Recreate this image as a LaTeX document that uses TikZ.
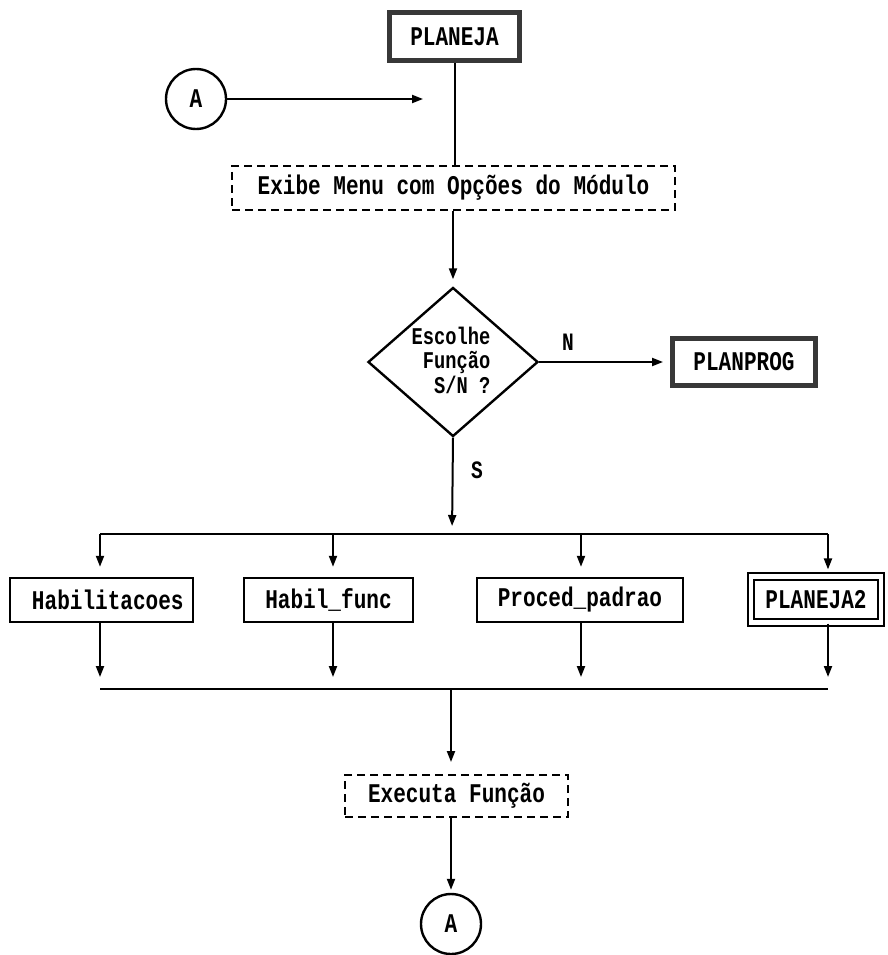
\documentclass[tikz,border=0pt]{standalone}
\usepackage{fontspec}
\newfontfamily\dotfont[FakeStretch=0.78]{Liberation Mono}
\usetikzlibrary{shapes.geometric,arrows.meta}
\begin{document}
\begin{tikzpicture}[x=1pt,y=-1pt,
  every node/.style={font=\dotfont\bfseries\fontsize{27}{18}\selectfont, inner sep=0pt},
  proc/.style={draw, line width=2.4pt, minimum height=44pt},
  modbox/.style={draw=black!78, line width=5pt},
  dbox/.style={draw, line width=2pt, dash pattern=on 8pt off 5pt},
  conn/.style={draw, circle, line width=2.4pt, minimum size=60pt},
  decis/.style={draw, diamond, line width=2.4pt, minimum width=170pt, minimum height=149pt},
  line/.style={line width=2pt},
  arr/.style={line width=2pt, -{Triangle[length=11pt,width=8pt]}},
  lbl/.style={font=\dotfont\bfseries\fontsize{25}{25}\selectfont}
]
\fill[white] (0,0) rectangle (887,955);
\useasboundingbox (0,0) rectangle (887,955);

% start of the module and the return connector
\node[modbox, minimum width=130pt, minimum height=48pt] (planeja) at (454.5,36.5) {PLANEJA};
\node[conn] (c1) at (196,99) {A};
\coordinate (amerge) at (423,99);

% menu and decision
\node[dbox, minimum width=443pt, minimum height=44pt] (menu) at (453.5,188) {Exibe Menu com Opções do Módulo};
\node[decis] (decisao) at (453,362) {};
\node[align=left, font=\dotfont\bfseries\fontsize{24}{24.5}\selectfont] (decisaotxt) at (451,360) {Escolhe\\\hphantom{x}Função\\\hphantom{xx}S/N ?};
\node[modbox, minimum width=143pt, minimum height=47pt] (planprog) at (744,362) {PLANPROG};
\node[lbl] (nlbl) at (568,342) {N};
\node[lbl] (slbl) at (477,470) {S};

% functions of the module
\node[proc, minimum width=183pt] (hab) at (101.5,600) {\hphantom{x}Habilitacoes};
\node[proc, minimum width=169pt] (hf) at (328.5,600) {Habil\_func};
\node[proc, minimum width=206pt] (pp) at (580,600) {Proced\_padrao};
\node[draw, double, line width=2.2pt, double distance=4.5pt, minimum width=130pt, minimum height=46pt] (pl2) at (816,599.5) {PLANEJA2};

% distribution and collection buses
\coordinate (sbus) at (452,534);
\coordinate (b1) at (100,534);
\coordinate (b2) at (333,534);
\coordinate (b3) at (581,534);
\coordinate (b4) at (828,534);
\coordinate (d1) at (100,689);
\coordinate (d2) at (333,689);
\coordinate (d3) at (581,689);
\coordinate (d4) at (828,689);
\coordinate (dm) at (451,689);

\node[dbox, minimum width=223pt, minimum height=42pt] (exec) at (456.5,796) {Executa Função};
\node[conn] (c2) at (451,924) {A};

% connectors
\draw[arr] (c1.east) -- (amerge);
\draw[line] (planeja.south) -- (planeja.south |- menu.north);
\draw[arr, shorten >=7pt] (decisao.north |- menu.south) -- (decisao.north);
\draw[arr, shorten >=7pt] (decisao.east) -- (planprog.west);
\draw[arr, shorten >=8pt] (decisao.south) -- (sbus);
\draw[line] (b1) -- (b4);
\draw[arr, shorten >=10pt] (b1) -- (b1 |- hab.north);
\draw[arr, shorten >=10pt] (b2) -- (b2 |- hf.north);
\draw[arr, shorten >=10pt] (b3) -- (b3 |- pp.north);
\draw[arr, shorten >=6pt] (b4) -- (b4 |- pl2.north);
\draw[arr, shorten >=12pt] (b1 |- hab.south) -- (d1);
\draw[arr, shorten >=12pt] (b2 |- hf.south) -- (d2);
\draw[arr, shorten >=12pt] (b3 |- pp.south) -- (d3);
\draw[arr, shorten >=12pt] (b4 |- pl2.south) -- (d4);
\draw[line] (d1) -- (d4);
\draw[arr, shorten >=12pt] (dm) -- (dm |- exec.north);
\draw[arr, shorten >=3pt] (c2 |- exec.south) -- (c2.north);
\end{tikzpicture}
\end{document}
